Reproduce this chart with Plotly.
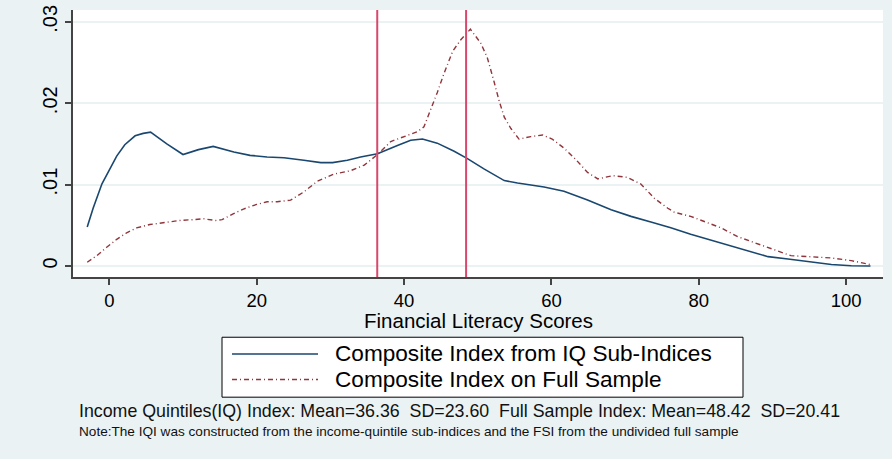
import plotly.graph_objects as go

# Kernel density estimates of the financial literacy scores
iq_x = [-3.0, -2.2, -1.0, -0.1, 1.0, 2.1, 3.5, 4.6, 5.6, 7.8, 10.0, 12.1, 14.1, 16.9, 19.1,
        21.4, 23.7, 26.4, 28.7, 30.3, 32.3, 34.1, 36.4, 39.1, 40.9, 42.5, 44.5, 46.8, 48.6,
        50.9, 53.6, 55.4, 59.0, 61.7, 64.9, 68.1, 70.8, 73.5, 76.2, 78.9, 81.6, 84.4, 87.1,
        89.4, 92.1, 95.2, 98.0, 100.7, 103.3]
iq_density = [0.0048, 0.0071, 0.0101, 0.0117, 0.0135, 0.0149, 0.0160, 0.0163, 0.01645, 0.0150,
              0.0137, 0.0143, 0.0147, 0.0140, 0.0136, 0.0134, 0.0133, 0.0130, 0.0127, 0.0127,
              0.0130, 0.0134, 0.0138, 0.0148, 0.01545, 0.0156, 0.0151, 0.0141, 0.0132, 0.0119,
              0.0105, 0.0102, 0.0097, 0.0092, 0.0081, 0.0069, 0.0061, 0.0054, 0.0047, 0.0039,
              0.0032, 0.0024, 0.00175, 0.00115, 0.00087, 0.00046, 0.00018, 0.00003, 0.0]

fs_x = [-3.0, -1.7, -0.4, 1.0, 2.35, 3.7, 5.5, 7.3, 9.6, 11.4, 12.8, 14.4, 15.3, 16.8, 18.2,
        20.0, 21.4, 22.8, 24.6, 26.4, 28.2, 30.5, 32.7, 34.6, 36.4, 38.2, 40.0, 41.8, 42.7,
        43.6, 44.5, 45.4, 46.6, 47.7, 49.0, 50.4, 51.3, 52.2, 52.9, 53.6, 54.5, 55.6, 57.2,
        58.8, 60.1, 61.7, 63.3, 64.9, 66.3, 68.3, 70.3, 72.1, 74.0, 75.8, 76.7, 78.9, 80.7,
        83.0, 85.3, 87.1, 89.8, 92.5, 95.2, 98.0, 100.7, 103.3]
fs_density = [0.00046, 0.00127, 0.00227, 0.00328, 0.00408, 0.00468, 0.0051, 0.0053, 0.0056,
              0.0057, 0.0058, 0.0056, 0.0057, 0.0064, 0.0070, 0.00757, 0.0079, 0.0079, 0.0081,
              0.0091, 0.0104, 0.0113, 0.0117, 0.0124, 0.0137, 0.0153, 0.0159, 0.0165, 0.0171,
              0.0191, 0.0213, 0.0236, 0.0264, 0.0278, 0.0291, 0.0274, 0.0256, 0.0227, 0.0203,
              0.0183, 0.0169, 0.0156, 0.0159, 0.0161, 0.0156, 0.0145, 0.0131, 0.0115, 0.0107,
              0.0111, 0.0109, 0.0101, 0.0083, 0.0071, 0.0066, 0.0061, 0.0055, 0.0047, 0.0036,
              0.0030, 0.0021, 0.00127, 0.00114, 0.00099, 0.00066, 0.00018]

series_names = ["Composite Index from IQ Sub-Indices", "Composite Index on Full Sample"]
index_means = [36.36, 48.42]
index_sds = [23.60, 20.41]

x_ticks = [0, 20, 40, 60, 80, 100]
y_ticks = [0, 0.01, 0.02, 0.03]
y_tick_labels = ["0", ".01", ".02", ".03"]

BLUE = "#1a476f"
MAROON = "#90353b"
MEAN_LINE = "#d9486c"
BG = "#eaf2f3"
FONT = "Liberation Sans, Arial, sans-serif"
RED_DASH = "5px,3px,1px,3px"

W, H = 892, 459
L, R, T, B = 73, 883, 5, 276.7


def px(xp):
    return (xp - L) / (R - L)


def py(yp):
    return (B - yp) / (B - T)


fig = go.Figure()
fig.add_trace(go.Scatter(x=iq_x, y=iq_density, mode="lines", name=series_names[0],
                         line=dict(color=BLUE, width=1.6), showlegend=False))
fig.add_trace(go.Scatter(x=fs_x, y=fs_density, mode="lines", name=series_names[1],
                         line=dict(color=MAROON, width=1.4, dash=RED_DASH), showlegend=False))

# Vertical lines at the two index means
for m in index_means:
    fig.add_shape(type="line", xref="x", yref="paper", x0=m, x1=m, y0=0, y1=1,
                  line=dict(color=MEAN_LINE, width=2))

# Legend box drawn below the axis
fig.add_shape(type="rect", xref="paper", yref="paper", x0=px(222), x1=px(743),
              y0=py(399), y1=py(338), line=dict(color="black", width=1), fillcolor="white",
              layer="above")
for i, (color, dash) in enumerate([(BLUE, "solid"), (MAROON, RED_DASH)]):
    yy = [355, 381][i]
    fig.add_shape(type="line", xref="paper", yref="paper", x0=px(232), x1=px(318),
                  y0=py(yy), y1=py(yy), line=dict(color=color, width=1.5, dash=dash),
                  layer="above")
    fig.add_annotation(xref="paper", yref="paper", x=px(333), y=py(yy), text=series_names[i],
                       showarrow=False, xanchor="left", yanchor="middle",
                       font=dict(family=FONT, size=22.6, color="black"))

fig.add_annotation(xref="paper", yref="paper", x=px(478), y=py(321),
                   text="Financial Literacy Scores", showarrow=False,
                   xanchor="center", yanchor="middle",
                   font=dict(family=FONT, size=20.5, color="black"))

note1 = ("Income Quintiles(IQ) Index: Mean=%.2f  SD=%.2f  Full Sample Index: Mean=%.2f  SD=%.2f"
         % (index_means[0], index_sds[0], index_means[1], index_sds[1]))
note2 = ("Note:The IQI was constructed from the income-quintile sub-indices and the FSI "
         "from the undivided full sample")
fig.add_annotation(xref="paper", yref="paper", x=px(77), y=py(413), text=note1.replace("  ", "&nbsp; "),
                   showarrow=False, xanchor="left", yanchor="middle",
                   font=dict(family=FONT, size=17.8, color="#111"))
fig.add_annotation(xref="paper", yref="paper", x=px(77), y=py(434), text=note2,
                   showarrow=False, xanchor="left", yanchor="middle",
                   font=dict(family=FONT, size=13.6, color="#111"))

axis_common = dict(showline=True, linecolor="#444", linewidth=1.5, ticks="outside",
                   ticklen=6, tickwidth=1.5, tickcolor="#444", zeroline=False)
fig.update_xaxes(range=[-4.93, 105.0], tickvals=x_ticks, showgrid=False,
                 tickfont=dict(family=FONT, size=18.5, color="black"), **axis_common)
fig.update_yaxes(range=[-0.00135, 0.03146], tickvals=y_ticks, ticktext=y_tick_labels,
                 tickangle=-90, showgrid=True, gridcolor=BG, gridwidth=1.5,
                 tickfont=dict(family=FONT, size=20, color="black"), **axis_common)

fig.update_layout(width=W, height=H, margin=dict(l=L, r=W - R, t=T, b=H - B),
                  paper_bgcolor=BG, plot_bgcolor="white", showlegend=False)

fig.write_html("out.html")
